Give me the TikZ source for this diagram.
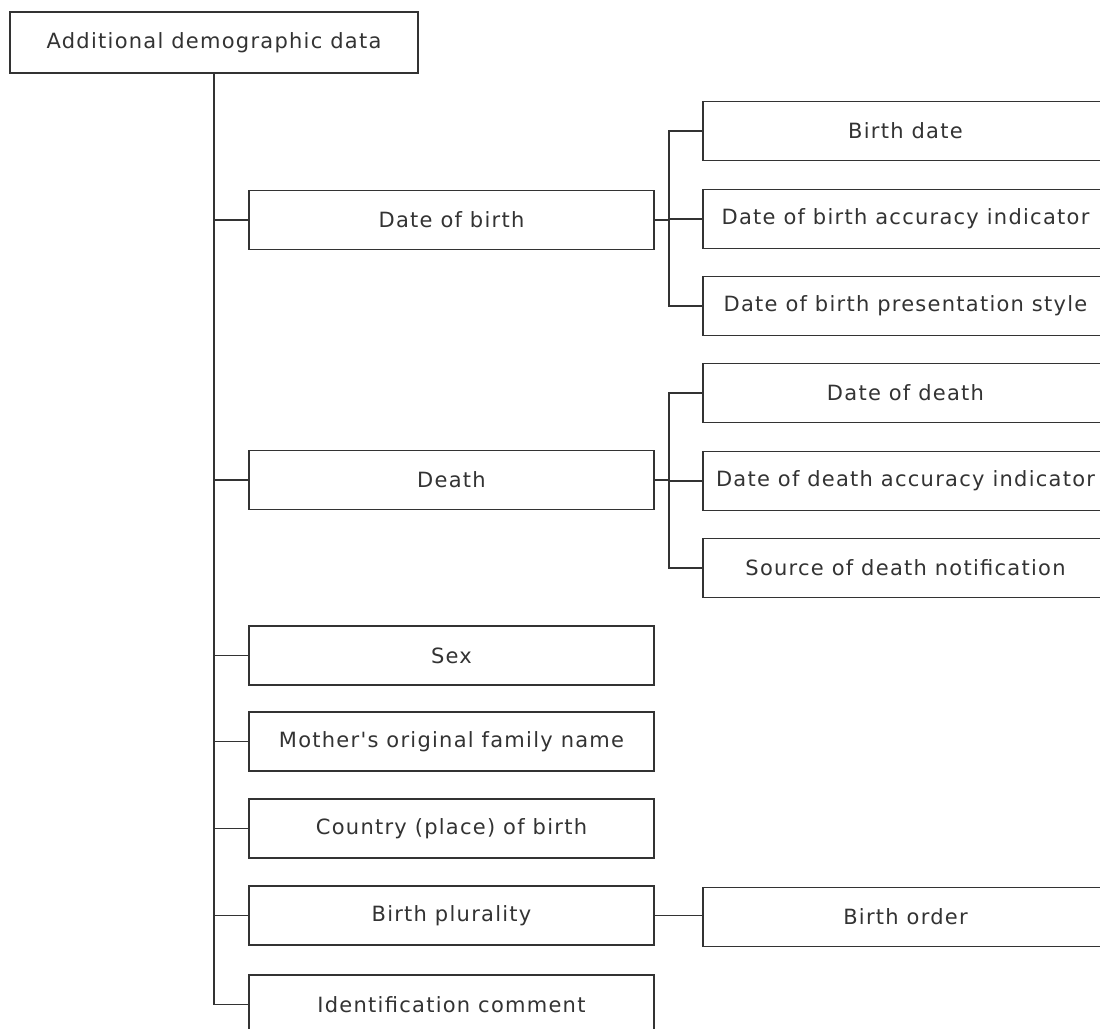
\documentclass[tikz,border=0pt]{standalone}
\usepackage{fontspec}
\setmainfont{DejaVu Sans}
\newfontfamily\boxfont[LetterSpace=6]{DejaVu Sans}
\definecolor{ink}{HTML}{333333}
\tikzset{
  box/.style={draw=ink, line width=0.8pt, minimum width=202.5pt, minimum height=29.5pt,
    inner sep=0pt, text=ink, font=\boxfont\fontsize{10.5}{12}\selectfont},
  link/.style={draw=ink, line width=0.8pt}
}
\begin{document}
\begin{tikzpicture}[x=0.5pt,y=-0.5pt]
\clip (0,0) rectangle (1100,1029);
\fill[white] (0,0) rectangle (1100,1029);
% root
\node[box, minimum width=204pt, minimum height=30.5pt] (root) at (214,42.5) {Additional demographic data};
% first level
\node[box] (dob) at (451.5,220) {Date of birth};
\node[box] (death) at (451.5,480) {Death};
\node[box] (sex) at (451.5,655.5) {Sex};
\node[box] (mother) at (451.5,741.5) {Mother's original family name};
\node[box] (country) at (451.5,828.5) {Country (place) of birth};
\node[box] (plural) at (451.5,915.5) {Birth plurality};
\node[box] (ident) at (451.5,1004.5) {Identification comment};
% second level
\node[box] (bdate) at (905.5,131) {Birth date};
\node[box] (dobacc) at (905.5,219) {Date of birth accuracy indicator};
\node[box] (dobstyle) at (905.5,306) {Date of birth presentation style};
\node[box] (dod) at (905.5,393) {Date of death};
\node[box] (dodacc) at (905.5,481) {Date of death accuracy indicator};
\node[box] (source) at (905.5,568) {Source of death notification};
\node[box] (order) at (905.5,917) {Birth order};
\coordinate (dobj) at (669,220);
\coordinate (deathj) at (669,480);

\path[link] (root.south) |- (dob.west);
\path[link] (root.south) |- (death.west);
\path[link] (root.south) |- (sex.west);
\path[link] (root.south) |- (mother.west);
\path[link] (root.south) |- (country.west);
\path[link] (root.south) |- (plural.west);
\path[link] (root.south) |- (ident.west);

\path[link] (dob.east) -- (dobj);
\path[link] (dobj) |- (bdate.west);
\path[link] (dobj) |- (dobacc.west);
\path[link] (dobj) |- (dobstyle.west);
\path[link] (death.east) -- (deathj);
\path[link] (deathj) |- (dod.west);
\path[link] (deathj) |- (dodacc.west);
\path[link] (deathj) |- (source.west);
\path[link] (plural.east) -- (plural.east -| order.west);
\end{tikzpicture}
\end{document}
